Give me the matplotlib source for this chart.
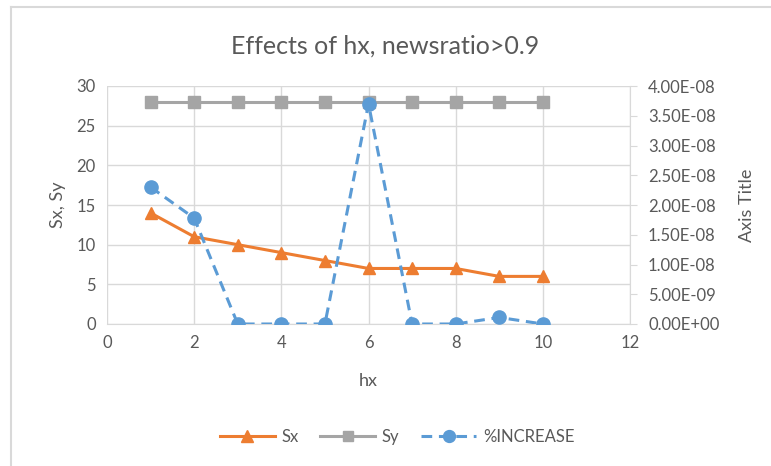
import matplotlib.pyplot as plt
from matplotlib.lines import Line2D

hx = [1, 2, 3, 4, 5, 6, 7, 8, 9, 10]
sx = [14, 11, 10, 9, 8, 7, 7, 7, 6, 6]
sy = [28, 28, 28, 28, 28, 28, 28, 28, 28, 28]
pct_increase = [2.30e-8, 1.78e-8, 0, 0, 0, 3.70e-8, 0, 0, 1.1e-9, 0]

right_ticks = [0, 5e-9, 1e-8, 1.5e-8, 2e-8, 2.5e-8, 3e-8, 3.5e-8, 4e-8]

plt.rcParams['font.family'] = ['Lato', 'DejaVu Sans']
text_col = '#595959'
grid_col = '#d9d9d9'

fig = plt.figure(figsize=(7.71, 4.66), dpi=100)

# chart frame (left and top edges only are visible)
fig.add_artist(Line2D([11 / 771, 11 / 771], [0, 1 - 7 / 466], color=grid_col, lw=1.5))
fig.add_artist(Line2D([11 / 771, 1], [1 - 7 / 466, 1 - 7 / 466], color=grid_col, lw=1.5))

ax = fig.add_axes([107 / 771, 1 - 324 / 466, 523 / 771, 238 / 466])
ax2 = ax.twinx()

ax.plot(hx, sx, color='#ed7d31', lw=2.2, marker='^', ms=9, label='Sx', zorder=3)
ax.plot(hx, sy, color='#a5a5a5', lw=2.2, marker='s', ms=8, label='Sy', zorder=3)
ax2.plot(hx, pct_increase, color='#5b9bd5', lw=2.2, ls=(0, (3.5, 2.2)), marker='o', ms=9.5,
         label='%INCREASE', zorder=3)

ax.set_xlim(0, 12)
ax.set_ylim(0, 30)
ax.set_xticks(range(0, 13, 2))
ax.set_yticks(range(0, 31, 5))
ax2.set_ylim(0, 4e-8)
ax2.set_yticks(right_ticks)
ax2.set_yticklabels([f'{v:.2E}' for v in right_ticks])

ax.grid(True, color=grid_col, lw=1)
ax.set_axisbelow(True)
for a in (ax, ax2):
    for s in a.spines.values():
        s.set_visible(False)
ax.spines['bottom'].set_visible(True)
ax.spines['bottom'].set_color(grid_col)
ax2.spines['right'].set_visible(True)
ax2.spines['right'].set_color(grid_col)

ax.tick_params(axis='both', length=0, colors=text_col, labelsize=12, pad=8)
ax2.tick_params(axis='y', length=5, color=grid_col, labelcolor=text_col, labelsize=12, pad=8)

ax.set_xlabel('hx', color=text_col, fontsize=13, labelpad=16)
ax.set_ylabel('Sx, Sy', color=text_col, fontsize=13, labelpad=8)
ax2.set_ylabel('Axis Title', color=text_col, fontsize=13, labelpad=14)

fig.suptitle('Effects of hx, newsratio>0.9', color=text_col, fontsize=18, y=0.925)

handles = ax.get_lines() + ax2.get_lines()
fig.legend(handles, [h.get_label() for h in handles], loc='center', bbox_to_anchor=(0.515, 0.062),
           ncol=3, frameon=False, fontsize=12, labelcolor=text_col, handlelength=3.3,
           columnspacing=1.3, handletextpad=0.4, markerscale=0.9)

fig.savefig('out.png', dpi=100)
